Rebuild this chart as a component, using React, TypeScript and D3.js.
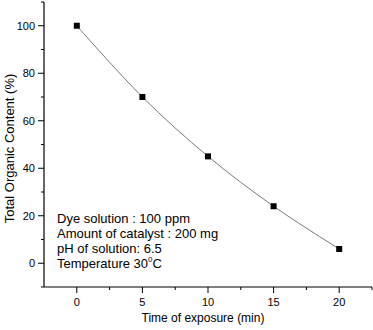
import { useRef, useEffect } from "react";
import * as d3 from "d3";

const times = [0, 5, 10, 15, 20];
const tocValues = [100, 70, 45, 24, 6];
const xTicks = [0, 5, 10, 15, 20];
const yTicks = [0, 20, 40, 60, 80, 100];
const notes = [
  "Dye solution : 100 ppm",
  "Amount of catalyst : 200 mg",
  "pH of solution: 6.5",
];

export default function App() {
  const svgRef = useRef<SVGSVGElement>(null);

  useEffect(() => {
    const svg = d3.select(svgRef.current);
    svg.selectAll("*").remove();

    const width = 373;
    const height = 330;
    const margin = { top: 2, right: 1, bottom: 43, left: 44 };
    const font = "Arial, 'Liberation Sans', sans-serif";

    svg.attr("width", width).attr("height", height).style("font-family", font);

    const x = d3.scaleLinear().domain([-2.5, 22.5]).range([margin.left, width - margin.right]);
    const y = d3.scaleLinear().domain([-10, 110]).range([height - margin.bottom, margin.top]);

    const data = times.map((t, i) => ({ t, v: tocValues[i] }));

    // axis lines
    const y0 = height - margin.bottom;
    svg.append("line")
      .attr("x1", margin.left).attr("x2", width - margin.right)
      .attr("y1", y0).attr("y2", y0)
      .attr("stroke", "#000").attr("stroke-width", 1.2);
    svg.append("line")
      .attr("x1", margin.left).attr("x2", margin.left)
      .attr("y1", margin.top).attr("y2", y0)
      .attr("stroke", "#000").attr("stroke-width", 1.2);

    // x ticks (major + minor)
    d3.range(0, 22.6, 2.5).forEach((t) => {
      const major = t % 5 === 0;
      svg.append("line")
        .attr("x1", x(t)).attr("x2", x(t))
        .attr("y1", y0).attr("y2", y0 + (major ? 6 : 3))
        .attr("stroke", "#000").attr("stroke-width", 1);
    });
    svg.selectAll(".xt").data(xTicks).join("text")
      .attr("x", (d) => x(d)).attr("y", y0 + 19)
      .attr("text-anchor", "middle").attr("font-size", 11)
      .text((d) => d);

    // y ticks (major + minor)
    d3.range(-10, 110.1, 10).forEach((v) => {
      const major = v % 20 === 0;
      svg.append("line")
        .attr("x1", margin.left).attr("x2", margin.left - (major ? 6 : 3))
        .attr("y1", y(v)).attr("y2", y(v))
        .attr("stroke", "#000").attr("stroke-width", 1);
    });
    svg.selectAll(".yt").data(yTicks).join("text")
      .attr("x", margin.left - 9).attr("y", (d) => y(d) + 4)
      .attr("text-anchor", "end").attr("font-size", 11)
      .text((d) => d);

    // axis titles
    svg.append("text")
      .attr("x", 203).attr("y", 322)
      .attr("text-anchor", "middle").attr("font-size", 12)
      .text("Time of exposure (min)");
    svg.append("text")
      .attr("transform", `translate(14,${(margin.top + y0) / 2 + 4}) rotate(-90)`)
      .attr("text-anchor", "middle").attr("font-size", 13)
      .text("Total Organic Content (%)");

    // curve
    const line = d3.line<{ t: number; v: number }>()
      .x((d) => x(d.t)).y((d) => y(d.v))
      .curve(d3.curveCatmullRom);
    svg.append("path")
      .datum(data)
      .attr("d", line)
      .attr("fill", "none").attr("stroke", "#555").attr("stroke-width", 0.8);

    svg.selectAll(".pt").data(data).join("rect")
      .attr("x", (d) => x(d.t) - 3).attr("y", (d) => y(d.v) - 3)
      .attr("width", 6).attr("height", 6)
      .attr("fill", "#000");

    // annotation
    notes.forEach((n, i) => {
      svg.append("text")
        .attr("x", 57).attr("y", 223 + i * 15)
        .attr("font-size", 13)
        .text(n);
    });
    const temp = svg.append("text").attr("x", 57).attr("y", 268).attr("font-size", 13);
    temp.append("tspan").text("Temperature 30");
    temp.append("tspan").attr("font-size", 8).attr("dy", -6).text("0");
    temp.append("tspan").attr("dy", 6).text("C");
  }, []);

  return <svg ref={svgRef} style={{ position: "absolute", left: 0, top: 0 }} />;
}
